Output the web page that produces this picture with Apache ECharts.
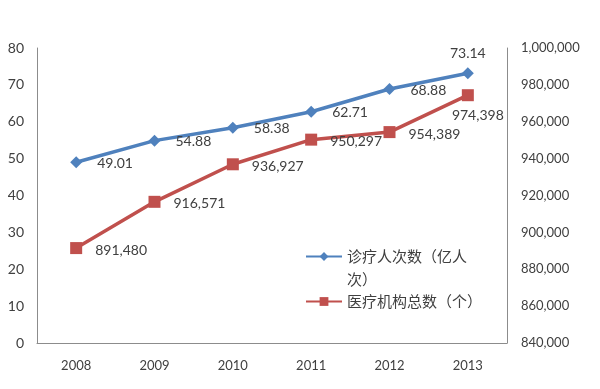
<!DOCTYPE html>
<html><head><meta charset="utf-8">
<script src="https://cdn.jsdelivr.net/npm/echarts@6/dist/echarts.min.js"></script>
<style>html,body{margin:0;padding:0;background:#fff}#c{width:600px;height:389px}</style>
</head><body><div id="c"></div>
<script>
const years = ['2008','2009','2010','2011','2012','2013'];
const visits = [49.01, 54.88, 58.38, 62.71, 68.88, 73.14];
const institutions = [891480, 916571, 936927, 950297, 954389, 974398];
const leftTicks = {min: 0, max: 80, interval: 10};
const rightTicks = {min: 840000, max: 1000000, interval: 20000};
const nameVisits = '诊疗人次数（亿人次）';
const nameInst = '医疗机构总数（个）';

const fmt = v => Math.round(v).toString().replace(/\B(?=(\d{3})+(?!\d))/g, ',');
const numFont = 'Lato, "Noto Sans", sans-serif';
const cjkFont = '"Noto Sans CJK SC", sans-serif';
const axisLine = {show: true, lineStyle: {color: '#8c8c8c', width: 1}};
const legendText = {fontFamily: cjkFont, fontSize: 15, color: '#404040', lineHeight: 23};

const chart = echarts.init(document.getElementById('c'));
chart.setOption({
  animation: false,
  grid: {left: 37, right: 93, top: 48, bottom: 46},
  legend: [
    {orient: 'vertical', left: 305, top: 222, padding: 0,
     itemWidth: 36, itemHeight: 11,
     textStyle: Object.assign({}, legendText, {
       rich: {a: {fontFamily: cjkFont, fontSize: 15, color: '#404040', lineHeight: 23}}
     }),
     formatter: () => '{a| }\n{a|诊疗人次数（亿人}\n{a|次）}',
     data: [nameVisits]},
    {orient: 'vertical', left: 305, top: 290, padding: 0,
     itemWidth: 36, itemHeight: 11,
     textStyle: legendText,
     data: [nameInst]}
  ],
  xAxis: {
    type: 'category', data: years, boundaryGap: true,
    axisLine: axisLine, axisTick: {show: false},
    axisLabel: {fontFamily: numFont, fontSize: 13, color: '#404040', margin: 16}
  },
  yAxis: [
    {type: 'value', min: leftTicks.min, max: leftTicks.max, interval: leftTicks.interval,
     axisLine: axisLine, axisTick: {show: false}, splitLine: {show: false},
     axisLabel: {fontFamily: numFont, fontSize: 14, color: '#404040', margin: 13}},
    {type: 'value', position: 'right', min: rightTicks.min, max: rightTicks.max, interval: rightTicks.interval,
     axisLine: axisLine, axisTick: {show: false}, splitLine: {show: false},
     axisLabel: {fontFamily: numFont, fontSize: 13, color: '#404040', margin: 14, formatter: fmt}}
  ],
  series: [
    {name: nameVisits, type: 'line', yAxisIndex: 0, data: visits.map((v, i) => i === visits.length - 1 ?
        {value: v, label: {position: 'top', offset: [0, -2]}} : v),
     symbol: 'diamond', symbolSize: 12,
     lineStyle: {color: '#4F81BD', width: 3.5}, itemStyle: {color: '#4F81BD'},
     label: {show: true, position: 'right', offset: [10, 1], fontFamily: numFont, fontSize: 14, color: '#404040',
             formatter: p => p.value.toFixed(2)}},
    {name: nameInst, type: 'line', yAxisIndex: 1, data: institutions.map((v, i) => i === institutions.length - 1 ?
        {value: v, label: {position: 'bottom', offset: [10, 2]}} : v),
     symbol: 'rect', symbolSize: 12,
     lineStyle: {color: '#C0504D', width: 3.5}, itemStyle: {color: '#C0504D'},
     label: {show: true, position: 'right', offset: [8, 2], fontFamily: numFont, fontSize: 14, color: '#404040',
             formatter: p => fmt(p.value)}}
  ]
});
</script></body></html>
